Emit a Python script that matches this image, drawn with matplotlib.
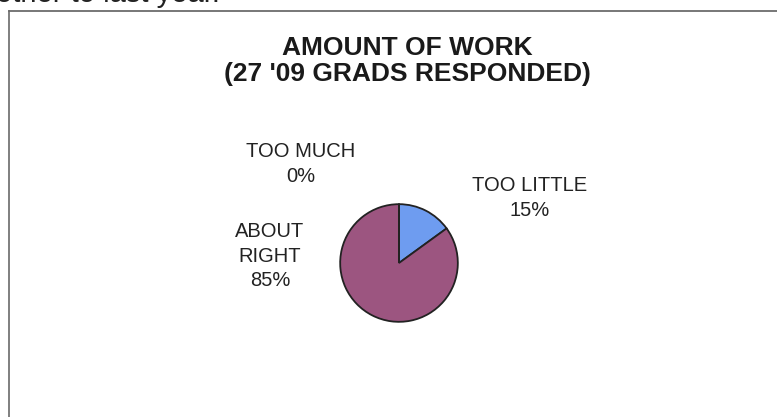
import matplotlib
matplotlib.use("Agg")
import matplotlib.pyplot as plt

plt.rcParams['font.family'] = ['Liberation Sans', 'DejaVu Sans']

# Survey responses
categories = ["TOO LITTLE", "ABOUT RIGHT", "TOO MUCH"]
shares = [15, 85, 0]
colors = ["#6E9CF0", "#9C5580", "#FFFFCC"]
title = "AMOUNT OF WORK\n(27 '09 GRADS RESPONDED)"

W, H = 777, 417
fig = plt.figure(figsize=(W / 100, H / 100), dpi=100)
fig.patch.set_facecolor("white")

# Chart frame (open at right and bottom)
fig.add_artist(plt.Line2D([9 / W, 1.0], [1 - 11 / H, 1 - 11 / H],
                          color="#606060", lw=1.2))
fig.add_artist(plt.Line2D([9 / W, 9 / W], [0.0, 1 - 11 / H],
                          color="#6a6a6a", lw=1.2))

# Line of body text running off the top of the page
fig.text(-4 / W, 1 - 2 / H, "other to last year.", fontsize=21,
         color="#222222", ha="left", va="baseline")

fig.text(407 / W, 1 - 61 / H, title, ha="center", va="center",
         fontsize=19, fontweight="bold", color="#1a1a1a", linespacing=1.1)

# Pie axes: centre (399, 263), radius 60 px
r = 60
cx, cy = 399, 263
ax = fig.add_axes([(cx - r) / W, (H - cy - r) / H, 2 * r / W, 2 * r / H])
ax.pie(shares, colors=colors, startangle=90, counterclock=False,
       wedgeprops=dict(edgecolor="#222222", linewidth=1.3))
ax.set_aspect("equal")
ax.set_xlim(-1.02, 1.02)
ax.set_ylim(-1.02, 1.02)
ax.axis("off")

# Category labels with percentages
label_pos = {
    "TOO LITTLE": (530, 198),
    "ABOUT RIGHT": (270, 256),
    "TOO MUCH": (301, 164),
}
for cat, val in zip(categories, shares):
    x, y = label_pos[cat]
    txt = cat.replace(" ", "\n") if cat == "ABOUT RIGHT" else cat
    fig.text(x / W, 1 - y / H, f"{txt}\n{val}%", ha="center", va="center",
             fontsize=14.5, color="#222222", linespacing=1.35)

fig.savefig("out.png", dpi=100, facecolor="white")
